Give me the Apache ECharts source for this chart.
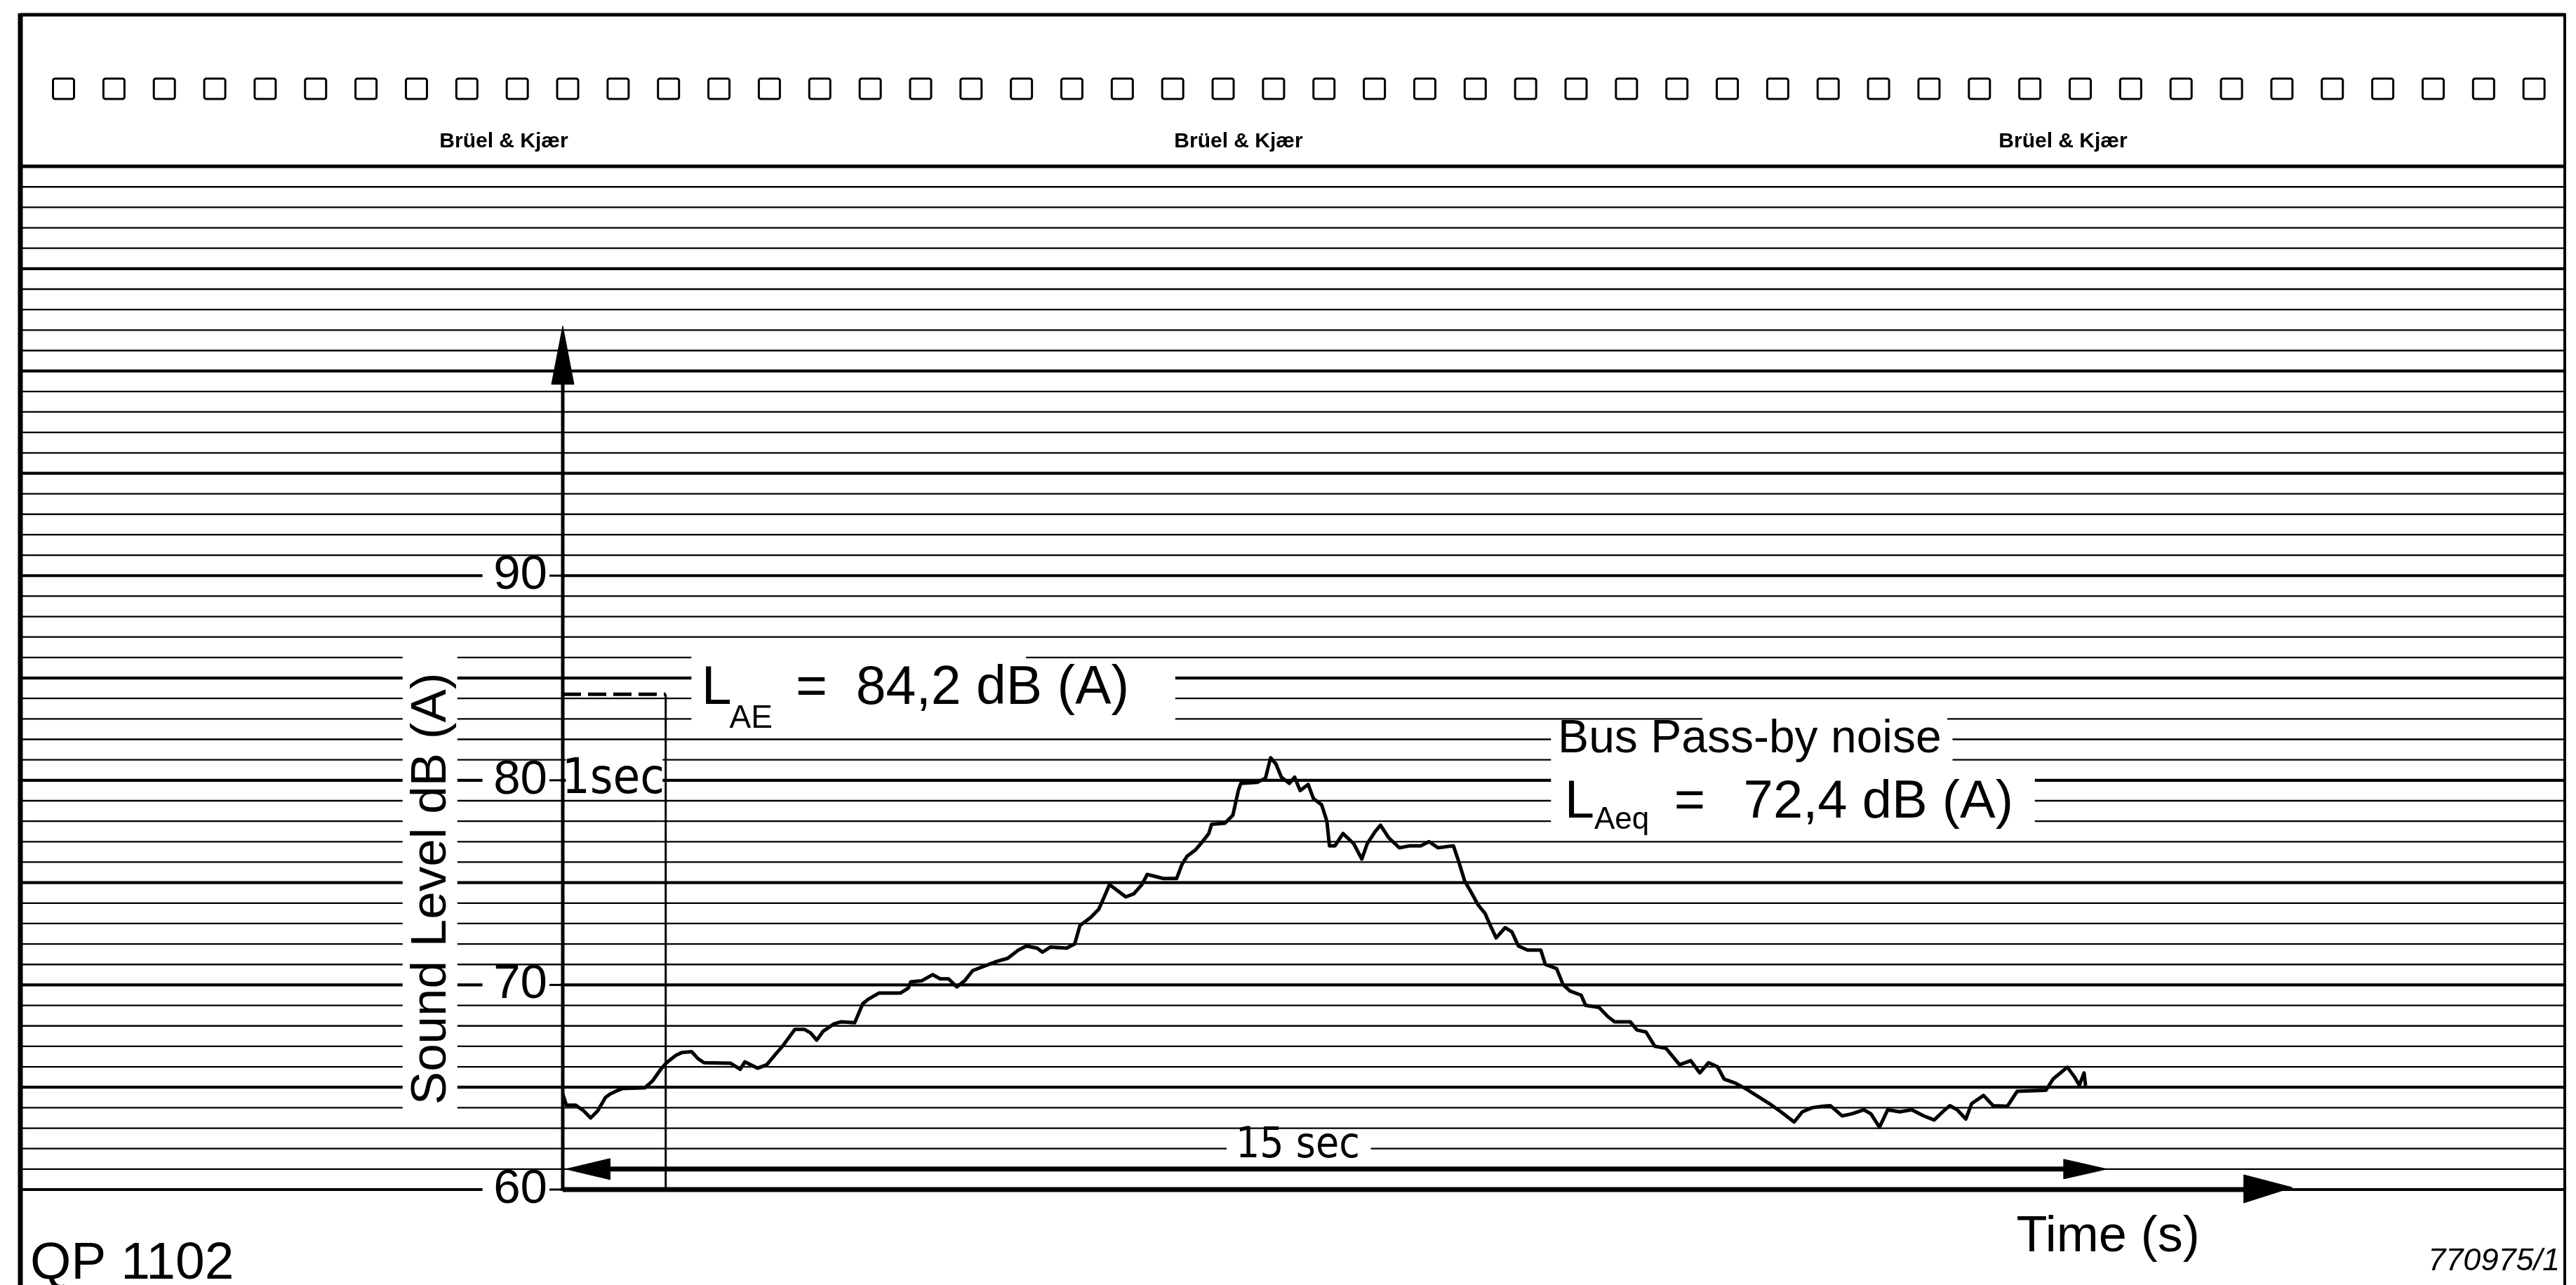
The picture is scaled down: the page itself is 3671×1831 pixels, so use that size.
<!DOCTYPE html>
<html>
<head>
<meta charset="utf-8">
<title>Bus Pass-by noise</title>
<script src="https://cdn.jsdelivr.net/npm/echarts@6.0.0/dist/echarts.min.js"></script>
<style>
html,body{margin:0;padding:0;background:#fff;overflow:hidden;}
#chart{width:3671px;height:1831px;}
</style>
</head>
<body>
<div id="chart"></div>
<script>
// ---------------- data (read from the recorder strip) ----------------
const timeS = [0.00,0.035,0.126,0.203,0.271,0.340,0.415,0.461,0.537,0.582,0.796,0.871,0.947,1.008,1.099,1.159,1.252,1.313,1.373,1.632,1.724,1.769,1.892,1.982,2.073,2.134,2.255,2.346,2.408,2.467,2.530,2.635,2.705,
  2.836,2.914,2.967,3.070,3.279,3.357,3.381,3.486,3.592,3.668,3.748,3.828,3.904,3.982,4.086,4.217,4.322,4.426,4.504,4.608,4.660,4.737,4.895,4.973,5.024,5.129,5.207,5.260,5.311,5.364,5.469,5.547,5.625,5.678,5.833,5.963,6.016,6.067,6.147,6.198,6.276,6.303,6.432,6.510,6.563,6.587,6.746,6.826,6.876,6.928,6.981,7.059,7.110,7.163,7.241,7.293,7.372,7.423,7.448,7.502,7.579,7.684,7.762,7.815,7.893,7.944,8.022,8.128,8.231,8.337,8.415,8.502,8.652,8.699,
  8.762,8.828,8.893,8.959,9.002,9.067,9.155,9.219,9.284,9.372,9.501,9.545,9.654,9.719,9.785,9.893,9.936,10.067,10.153,10.218,10.370,10.435,10.523,10.609,10.718,10.849,10.957,11.045,11.131,11.217,11.282,11.392,11.501,11.595,11.722,11.834,11.962,12.041,12.137,
  12.242,12.313,12.429,12.522,12.638,12.708,12.791,12.871,12.987,13.104,13.220,13.322,13.405,13.475,13.545,13.630,13.686,13.802,13.895,14.033,14.128,14.407,14.477,14.616,14.686,14.732,14.778,14.793];
const levelDb = [64.67,64.12,64.12,63.85,63.5,63.85,64.5,64.67,64.85,64.94,64.97,65.3,65.84,66.2,66.56,66.7,66.74,66.4,66.2,66.17,65.88,66.24,65.93,66.1,66.65,67.0,67.83,67.83,67.65,67.3,67.74,68.1,68.2,
  68.15,69.08,69.3,69.6,69.6,69.85,70.15,70.2,70.5,70.3,70.3,69.9,70.2,70.7,70.9,71.15,71.3,71.7,71.9,71.8,71.6,71.85,71.8,72.0,72.9,73.3,73.7,74.3,74.9,74.7,74.3,74.45,74.9,75.4,75.2,75.2,75.9,76.3,76.6,76.9,77.4,77.85,77.9,78.3,79.5,79.85,79.9,80.1,81.1,80.8,80.15,79.85,80.15,79.5,79.8,79.1,78.8,78.0,76.8,76.8,77.4,76.9,76.15,76.9,77.5,77.8,77.2,76.7,76.8,76.8,77.0,76.7,76.8,76.1,
  75.07,74.5,73.9,73.5,73.0,72.3,72.8,72.6,71.9,71.7,71.7,71.0,70.8,70.0,69.7,69.5,69.0,68.9,68.45,68.2,68.2,67.8,67.7,67.0,66.9,66.1,66.3,65.7,66.2,66.0,65.4,65.2,64.9,64.6,64.2,63.8,63.3,63.8,64.0,
  64.07,64.1,63.6,63.7,63.9,63.7,63.05,63.9,63.8,63.9,63.6,63.4,63.8,64.1,63.9,63.45,64.2,64.6,64.1,64.07,64.8,64.85,65.4,65.98,65.5,65.1,65.7,65.08];
// recorder paper ruling, one line per dB
const paperLevelsDb = [60,61,62,63,64,65,66,67,68,69,70,71,72,73,74,75,76,77,78,79,80,81,82,83,84,85,86,87,88,89,90,91,92,93,94,95,96,97,98,99,100,101,102,103,104,105,106,107,108,109,110];
const yTickValues = [60,70,80,90];
const yTickLabels = ['60','70','80','90'];
const laeDb = 84.2;
const laeqDb = 72.4;
const eventDurationS = 15;
const markerS = 1;
const brandLabels = ['Brüel & Kjær','Brüel & Kjær','Brüel & Kjær'];

// ---------------- layout ----------------
const W = 3671, H = 1831;
const FONT = '"Liberation Sans", Arial, sans-serif';
const NARROW = '"Liberation Sans Narrow", "DejaVu Sans Condensed", "Liberation Sans", sans-serif';
const X_MIN = -5.269, X_MAX = 19.448;
const Y_MIN = 55.336, Y_MAX = 117.41;

const chart = echarts.init(document.getElementById('chart'), null, {width: W, height: H, renderer: 'canvas'});

chart.setOption({
  animation: false,
  backgroundColor: '#ffffff',
  grid: {left: 29, right: 16, top: 21, bottom: 0, containLabel: false},
  xAxis: {type: 'value', min: X_MIN, max: X_MAX, show: false},
  yAxis: {type: 'value', min: Y_MIN, max: Y_MAX, show: false},
  series: [
    {
      type: 'custom', name: 'paper', z: 1, silent: true,
      data: paperLevelsDb.map(v => [0, v]),
      encode: {x: 0, y: 1},
      renderItem: function (params, api) {
        const v = api.value(1);
        const y = api.coord([0, v])[1];
        const cs = params.coordSys;
        const w = v === 110 ? 5 : (v % 5 === 0 ? 4.2 : 2.3);
        return {type: 'line', shape: {x1: cs.x, y1: y, x2: cs.x + cs.width, y2: y},
                style: {stroke: '#000', lineWidth: w}};
      }
    },
    {
      type: 'line', name: 'Sound level', z: 5,
      data: timeS.map((t, i) => [t, levelDb[i]]),
      showSymbol: false, symbol: 'none', smooth: false,
      lineStyle: {color: '#000', width: 5, join: 'round'}
    }
  ]
});

const P = (t, d) => chart.convertToPixel({gridIndex: 0}, [t, d]);
const G = [];
function white(t1, d1, t2, d2) {
  const a = P(t1, d1), b = P(t2, d2);
  G.push({type: 'rect', z: 10, silent: true,
    shape: {x: Math.min(a[0], b[0]), y: Math.min(a[1], b[1]), width: Math.abs(b[0] - a[0]), height: Math.abs(b[1] - a[1])},
    style: {fill: '#fff'}});
}
function seg(x1, y1, x2, y2, w, dash) {
  const st = {stroke: '#000', lineWidth: w};
  if (dash) st.lineDash = dash;
  G.push({type: 'line', z: 11, silent: true, shape: {x1, y1, x2, y2}, style: st});
}
function poly(points) {
  G.push({type: 'polygon', z: 12, silent: true, shape: {points}, style: {fill: '#000', stroke: '#000', lineWidth: 1}});
}
function text(x, y, str, font, align, vAlign, rot) {
  const el = {type: 'text', z: 13, silent: true, x, y,
    style: {text: str, font: font, fill: '#000', align: align, verticalAlign: vAlign || 'middle'}};
  if (rot) el.rotation = rot;
  G.push(el);
}

// ---- header of the recorder strip ----
seg(29, 21, 3655, 21, 5);
seg(29, 19, 29, H, 7);
seg(3655, 19, 3655, H, 4);
for (let i = 0; i < 50; i++) {
  const cx = 90.5 + i * 71.85;
  G.push({type: 'rect', z: 11, silent: true, shape: {x: cx - 15, y: 112, width: 30, height: 29, r: 3},
          style: {fill: 'none', stroke: '#000', lineWidth: 3}});
}
[718, 1765, 2940].forEach((cx, i) => text(cx, 202, brandLabels[i], 'bold 30px ' + FONT, 'center'));

// ---- white gaps where the printed texts interrupt the ruling ----
white(-1.556, 63.9, -1.024, 86.6);                 // axis title
yTickValues.forEach(v => white(-0.78, v - 0.9, -0.02, v + 0.9)); // tick labels
white(0.03, 79.3, 0.97, 81.3);                      // 1sec
white(1.25, 82.6, 5.95, 85.6);                      // L_AE text
white(1.25, 85.6, 4.5, 86.4);
white(9.6, 80.5, 13.5, 82.5);                       // Bus pass-by noise
white(11.07, 82.6, 13.45, 83.4);
white(9.6, 77.4, 14.3, 80.45);                      // L_Aeq text
white(6.45, 61.35, 7.85, 62.9);                     // 15 sec

// ---- axes drawn with arrows ----
let a = P(0, 60), b = P(0, 99.6);
seg(a[0], a[1], b[0], b[1], 5);
let tip = P(0, 102.2), base = P(0, 99.35);
poly([[tip[0], tip[1]], [base[0] - 16, base[1]], [base[0] + 16, base[1]]]);

a = P(0, 60); b = P(16.4, 60);
seg(a[0], a[1], b[0], b[1], 7);
tip = P(16.8, 60); base = P(16.33, 60);
poly([[tip[0], tip[1] - 3], [base[0], base[1] - 21], [base[0], base[1] + 19]]);

// 15 s double arrow
a = P(0.4, 61); b = P(eventDurationS - 0.38, 61);
seg(a[0], a[1], b[0], b[1], 7);
tip = P(0.03, 61); base = P(0.46, 61);
poly([[tip[0], tip[1]], [base[0], base[1] - 15], [base[0], base[1] + 15]]);
tip = P(eventDurationS, 61); base = P(eventDurationS - 0.42, 61);
poly([[tip[0], tip[1]], [base[0], base[1] - 14], [base[0], base[1] + 14]]);

// L_AE level over 1 second
a = P(0, laeDb); b = P(markerS, laeDb);
seg(a[0], a[1], b[0], b[1], 5, [26, 10]);
a = P(markerS, laeDb); b = P(markerS, 60);
seg(a[0], a[1], b[0], b[1], 3);

// ---- tick labels ----
yTickValues.forEach((v, i) => {
  const p = P(-0.15, v);
  text(p[0], p[1], yTickLabels[i], '69px ' + FONT, 'right');
  const q = P(-0.13, v), r = P(0, v);
  seg(q[0], q[1], r[0], r[1], 3);
});

// ---- texts ----
let p = P(-1.269, 74.7);
text(p[0], p[1], 'Sound Level dB (A)', '71px ' + FONT, 'center', 'middle', Math.PI / 2);

p = P(0.49, 80.0); text(p[0], p[1], '1sec', '70px ' + NARROW, 'center');

const laeStr = laeDb.toFixed(1).replace('.', ',') + ' dB (A)';
const laeqStr = laeqDb.toFixed(1).replace('.', ',') + ' dB (A)';
p = P(1.348, 84.45); text(p[0], p[1], 'L', '77px ' + FONT, 'left');
p = P(1.62, 83.0);   text(p[0], p[1], 'AE', '46px ' + FONT, 'left');
p = P(2.264, 84.45); text(p[0], p[1], '=', '77px ' + FONT, 'left');
p = P(2.848, 84.45); text(p[0], p[1], laeStr, '77px ' + FONT, 'left');

p = P(9.667, 82.0);  text(p[0], p[1], 'Bus Pass-by noise', '66px ' + FONT, 'left');
p = P(9.733, 78.9);  text(p[0], p[1], 'L', '76px ' + FONT, 'left');
p = P(10.02, 78.05); text(p[0], p[1], 'Aeq', '44px ' + FONT, 'left');
p = P(10.796, 78.9); text(p[0], p[1], '=', '76px ' + FONT, 'left');
p = P(11.47, 78.9);  text(p[0], p[1], laeqStr, '76px ' + FONT, 'left');

p = P(7.14, 62.1);   text(p[0], p[1], eventDurationS + ' sec', '60px ' + NARROW, 'center');
p = P(14.12, 57.67); text(p[0], p[1], 'Time (s)', '72px ' + FONT, 'left');

p = P(0, 56.37);     text(43, p[1], 'QP 1102', '75px ' + FONT, 'left');
p = P(0, 56.5);      text(3648, p[1], '770975/1', 'italic 45px ' + FONT, 'right');

chart.setOption({graphic: {elements: G}});
</script>
</body>
</html>
